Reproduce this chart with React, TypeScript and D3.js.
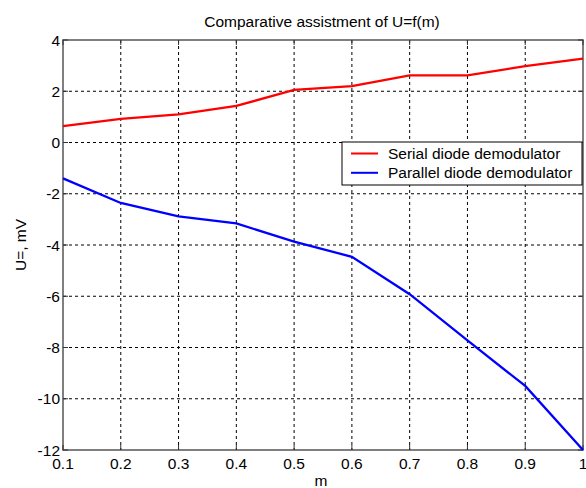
import React from "react";
import * as d3 from "d3";

const mValues = [0.1, 0.2, 0.3, 0.4, 0.5, 0.6, 0.7, 0.8, 0.9, 1.0];
const serial = [0.64, 0.92, 1.1, 1.43, 2.05, 2.2, 2.62, 2.62, 2.98, 3.27];
const parallel = [-1.4, -2.36, -2.88, -3.16, -3.87, -4.46, -5.92, -7.72, -9.5, -12.0];
const xTicks = [0.1, 0.2, 0.3, 0.4, 0.5, 0.6, 0.7, 0.8, 0.9, 1];
const yTicks = [4, 2, 0, -2, -4, -6, -8, -10, -12];
const seriesNames = ["Serial diode demodulator", "Parallel diode demodulator"];
const seriesColors = ["#ff0000", "#0000ff"];

const W = 586, H = 488;
const L = 63, R = 583, T = 40, B = 450;

export default function App() {
  const x = d3.scaleLinear().domain([0.1, 1]).range([L, R]);
  const y = d3.scaleLinear().domain([-12, 4]).range([B, T]);
  const line = d3.line<number>().x((_, i) => x(mValues[i])).y((d) => y(d));
  const font = "Liberation Sans, Arial, sans-serif";
  const fs = 15.5;
  const series = [serial, parallel];
  return (
    <svg width={W} height={H} style={{ position: "absolute", left: 0, top: 0, background: "#fff" }} fontFamily={font}>
      <rect x={0} y={0} width={W} height={H} fill="#fff" />
      {/* grid */}
      {xTicks.slice(1, -1).map((t) => (
        <line key={"gx" + t} x1={x(t)} x2={x(t)} y1={T} y2={B} stroke="#000" strokeWidth={1} strokeDasharray="3,3" />
      ))}
      {yTicks.slice(1, -1).map((t) => (
        <line key={"gy" + t} x1={L} x2={R} y1={y(t)} y2={y(t)} stroke="#000" strokeWidth={1} strokeDasharray="3,3" />
      ))}
      {/* border */}
      <rect x={L} y={T} width={R - L} height={B - T} fill="none" stroke="#555" strokeWidth={1.5} />
      {/* ticks */}
      {xTicks.map((t) => (
        <g key={"tx" + t}>
          <line x1={x(t)} x2={x(t)} y1={B} y2={B - 5} stroke="#333" />
          <line x1={x(t)} x2={x(t)} y1={T} y2={T + 5} stroke="#333" />
          <text x={x(t)} y={B + 18.5} fontSize={fs} textAnchor="middle" fill="#000">{String(t)}</text>
        </g>
      ))}
      {yTicks.map((t) => (
        <g key={"ty" + t}>
          <line x1={L} x2={L + 5} y1={y(t)} y2={y(t)} stroke="#333" />
          <line x1={R} x2={R - 5} y1={y(t)} y2={y(t)} stroke="#333" />
          <text x={L - 3} y={y(t) + 5.5} fontSize={fs} textAnchor="end" fill="#000">{String(t)}</text>
        </g>
      ))}
      {/* lines */}
      {series.map((s, i) => (
        <path key={"s" + i} d={line(s) || ""} fill="none" stroke={seriesColors[i]} strokeWidth={2.3} />
      ))}
      {/* legend */}
      <rect x={342} y={142} width={240} height={43} fill="#fff" stroke="#000" strokeWidth={1} />
      {seriesNames.map((n, i) => (
        <g key={"l" + i}>
          <line x1={351} x2={378} y1={153.5 + i * 19.3} y2={153.5 + i * 19.3} stroke={seriesColors[i]} strokeWidth={2} />
          <text x={388} y={159 + i * 19.3} fontSize={fs} fill="#000">{n}</text>
        </g>
      ))}
      {/* title & labels */}
      <text x={322} y={27} fontSize={fs} textAnchor="middle" fill="#000">Comparative assistment of U=f(m)</text>
      <text x={321} y={486} fontSize={fs} textAnchor="middle" fill="#000">m</text>
      <text transform="translate(26,245) rotate(-90)" fontSize={fs} textAnchor="middle" fill="#000">U=, mV</text>
    </svg>
  );
}
